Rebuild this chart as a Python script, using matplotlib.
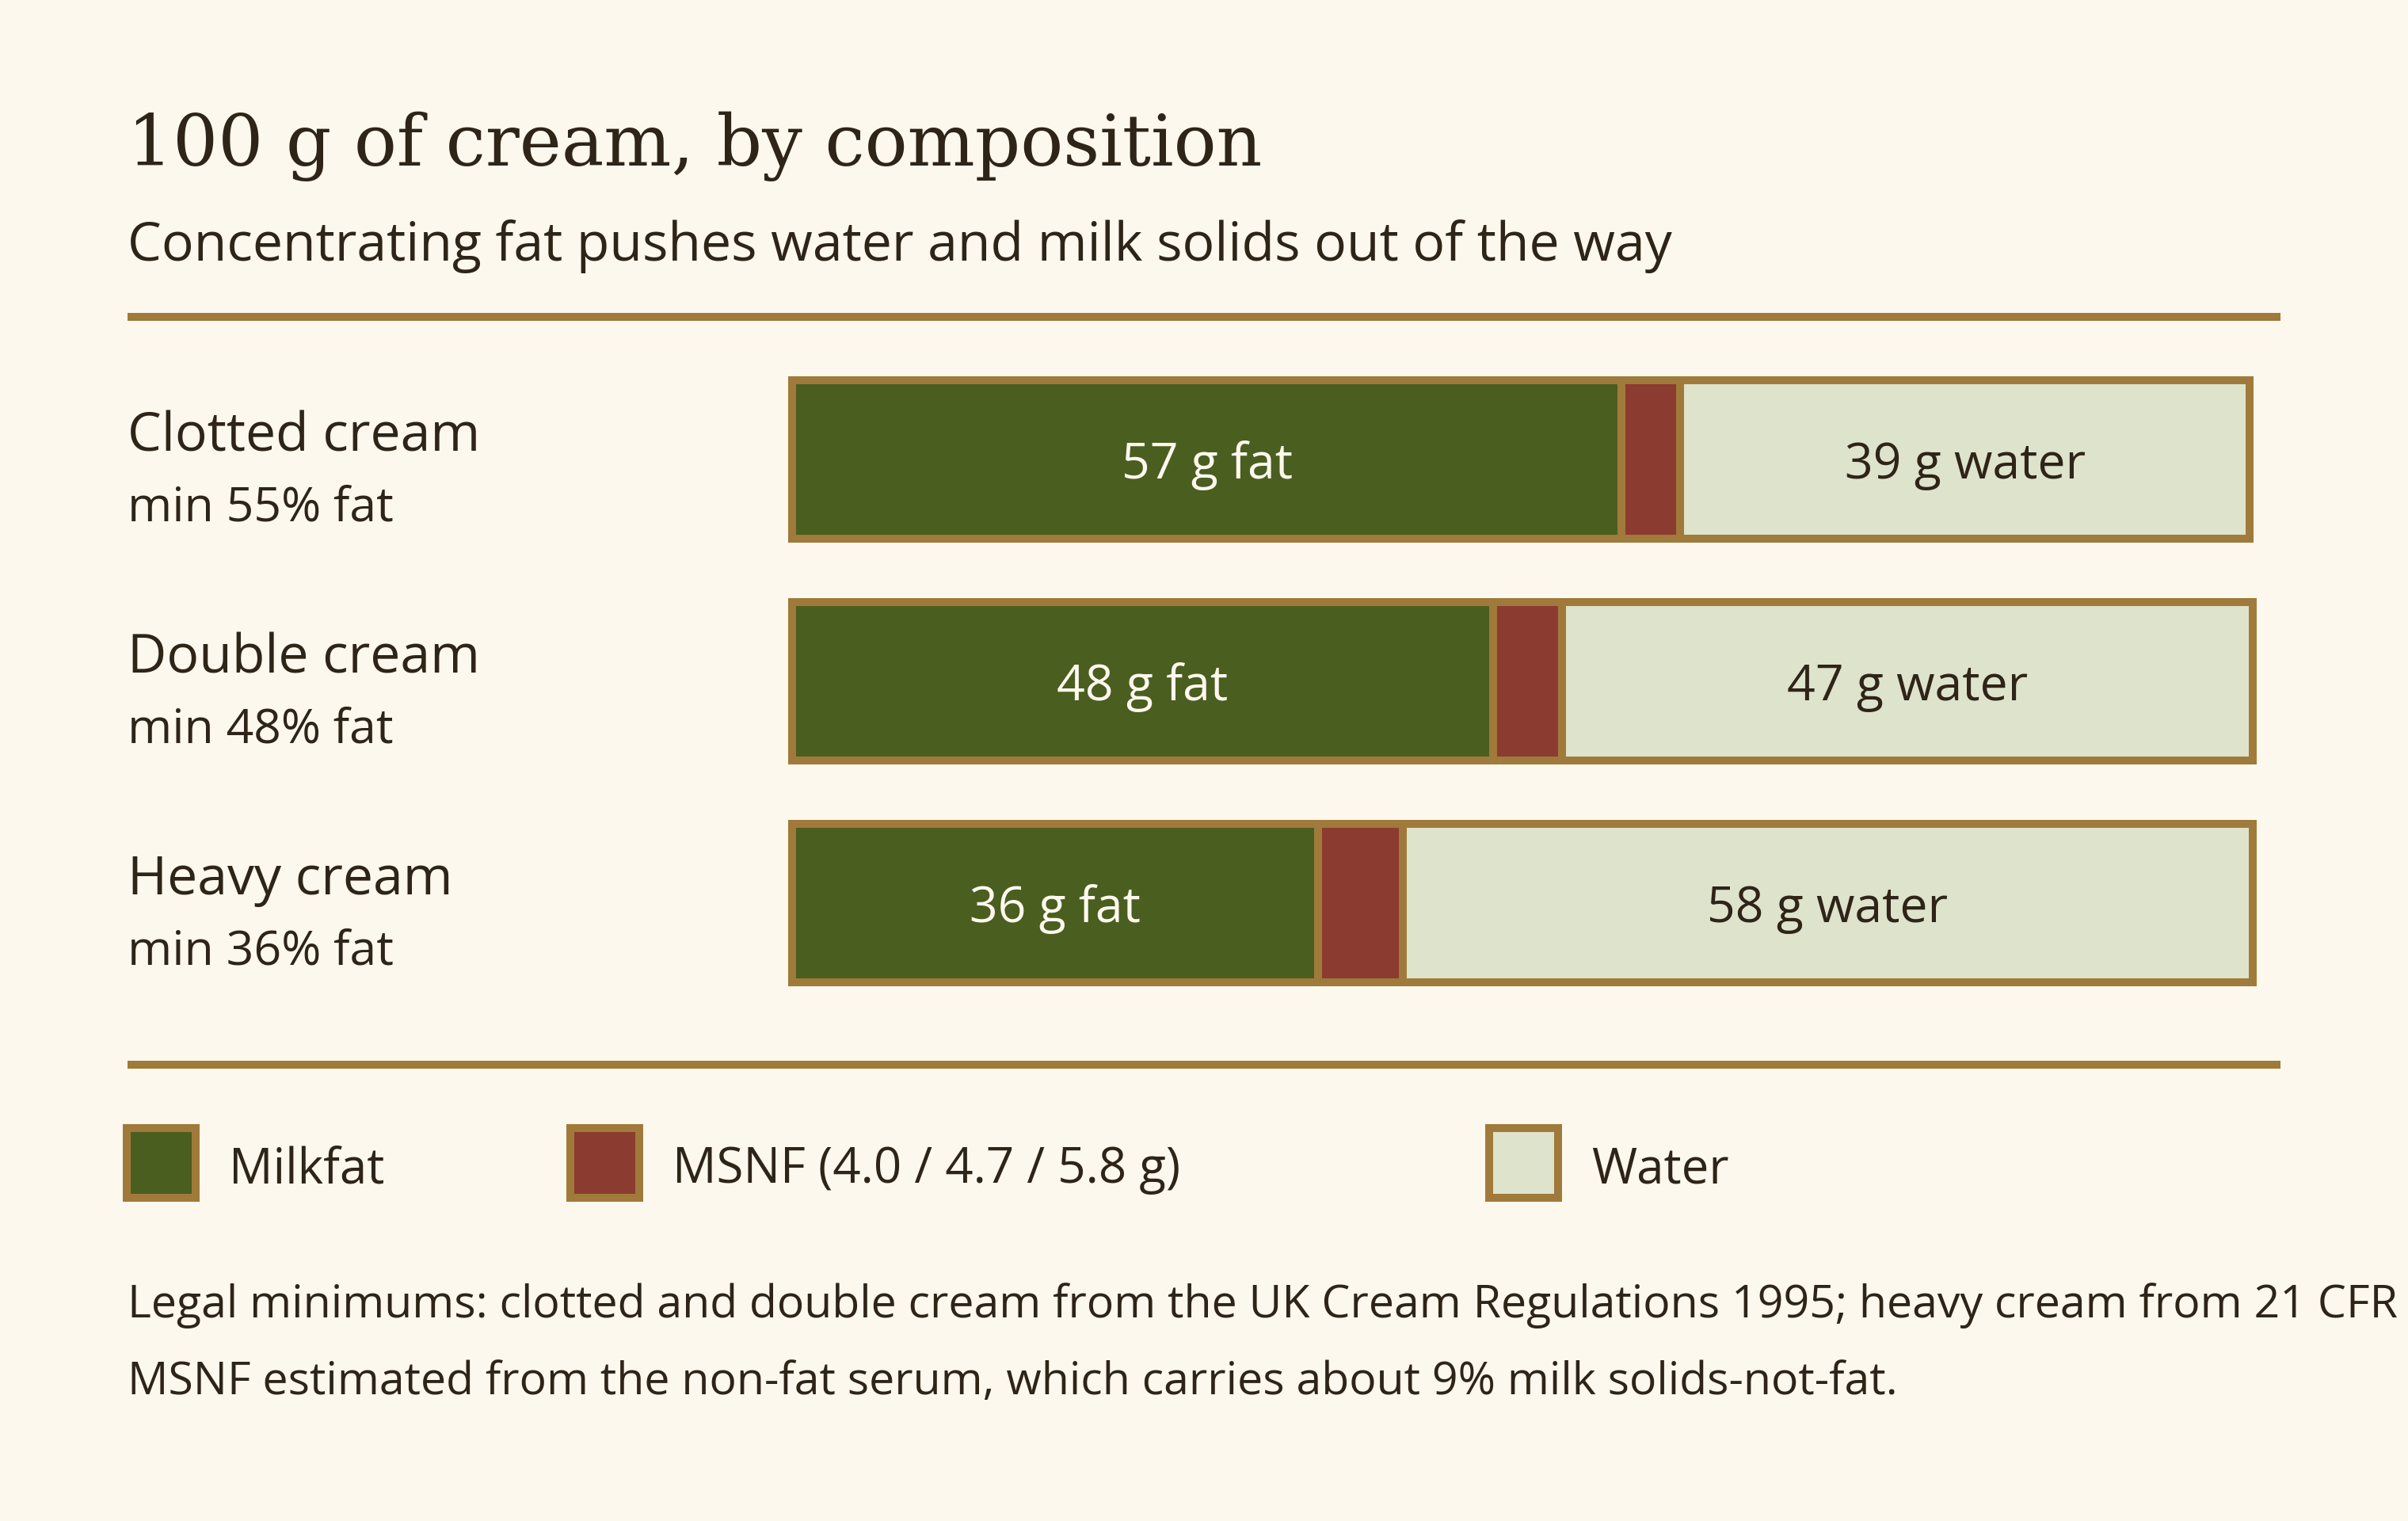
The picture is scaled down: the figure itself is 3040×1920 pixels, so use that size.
import matplotlib
matplotlib.use("Agg")
import matplotlib.pyplot as plt
from matplotlib.patches import Rectangle

# --- data (grams per 100 g) ---
creams = ["Clotted cream", "Double cream", "Heavy cream"]
legal_min = ["min 55% fat", "min 48% fat", "min 36% fat"]
fat = [56.8, 48.0, 36.0]
msnf = [4.0, 4.7, 5.8]
water = [39.0, 47.3, 58.2]

# --- style ---
BG = "#FCF8EE"
GOLD = "#A07A3B"
GREEN = "#4A5E20"
RED = "#8B3B2F"
WATER = "#DEE3CB"
INK = "#2E2418"
SANS = ["Open Sans", "DejaVu Sans"]
SERIF = ["DejaVu Serif"]

W, H = 3040, 1920
fig = plt.figure(figsize=(15.2, 9.6), dpi=200, facecolor=BG)


def fx(px):
    return px / W


def fy(py):
    return 1 - py / H


# title block
fig.text(fx(161), fy(209), "100 g of cream, by composition", family=SERIF,
         fontsize=32.3, color=INK, va="baseline")
fig.text(fx(161), fy(329), "Concentrating fat pushes water and milk solids out of the way",
         family=SANS, fontsize=24.5, color=INK, va="baseline")

# rules
for ytop in (395, 1339):
    fig.patches.append(Rectangle((fx(161), fy(ytop + 10)), fx(2879) - fx(161), 10 / H,
                                 transform=fig.transFigure, color=GOLD, lw=0))

# bars
ax = fig.add_axes([fx(1000), fy(1280), fx(2844) - fx(1000), 840 / H])
ax.set_xlim(0, 100)
ax.set_ylim(2.5, -0.5)
ax.axis("off")
ax.patch.set_alpha(0)

rows = list(range(len(creams)))
left_msnf = [f for f in fat]
left_water = [f + m for f, m in zip(fat, msnf)]
bh = 200 / 280
common = dict(height=bh, edgecolor=GOLD, linewidth=3.6, clip_on=False)
ax.barh(rows, fat, left=0, color=GREEN, **common)
ax.barh(rows, msnf, left=left_msnf, color=RED, **common)
ax.barh(rows, water, left=left_water, color=WATER, **common)

for i in rows:
    ax.text(fat[i] / 2, i + 0.086, f"{fat[i]:.0f} g fat", ha="center", va="baseline",
            family=SANS, fontsize=22.5, color=BG)
    ax.text(left_water[i] + water[i] / 2, i + 0.086, f"{water[i]:.0f} g water",
            ha="center", va="baseline", family=SANS, fontsize=22.5, color=INK)
    # row labels
    fig.text(fx(161), fy(569 + 280 * i), creams[i], family=SANS, fontsize=24.5,
             color=INK, va="baseline")
    fig.text(fx(161), fy(657 + 280 * i), legal_min[i], family=SANS, fontsize=21.9,
             color=INK, va="baseline")

# legend
legend_items = [
    (160, GREEN, "Milkfat"),
    (720, RED, "MSNF ({} g)".format(" / ".join(f"{m:.1f}" for m in msnf))),
    (1880, WATER, "Water"),
]
for x0, col, lab in legend_items:
    fig.patches.append(Rectangle((fx(x0), fy(1512)), 87 / W, 88 / H, transform=fig.transFigure,
                                 facecolor=col, edgecolor=GOLD, lw=3.6))
    fig.text(fx(x0 + 129), fy(1493), lab, family=SANS, fontsize=22.3, color=INK, va="baseline")

# footnote (first line runs past the right edge, as in the source)
fig.text(fx(161), fy(1663),
         "Legal minimums: clotted and double cream from the UK Cream Regulations 1995; "
         "heavy cream from 21 CFR 131.150.",
         family=SANS, fontsize=20.6, color=INK, va="baseline")
fig.text(fx(161), fy(1760),
         "MSNF estimated from the non-fat serum, which carries about 9% milk solids-not-fat.",
         family=SANS, fontsize=20.6, color=INK, va="baseline")

fig.savefig("out.png", dpi=200, facecolor=BG)
